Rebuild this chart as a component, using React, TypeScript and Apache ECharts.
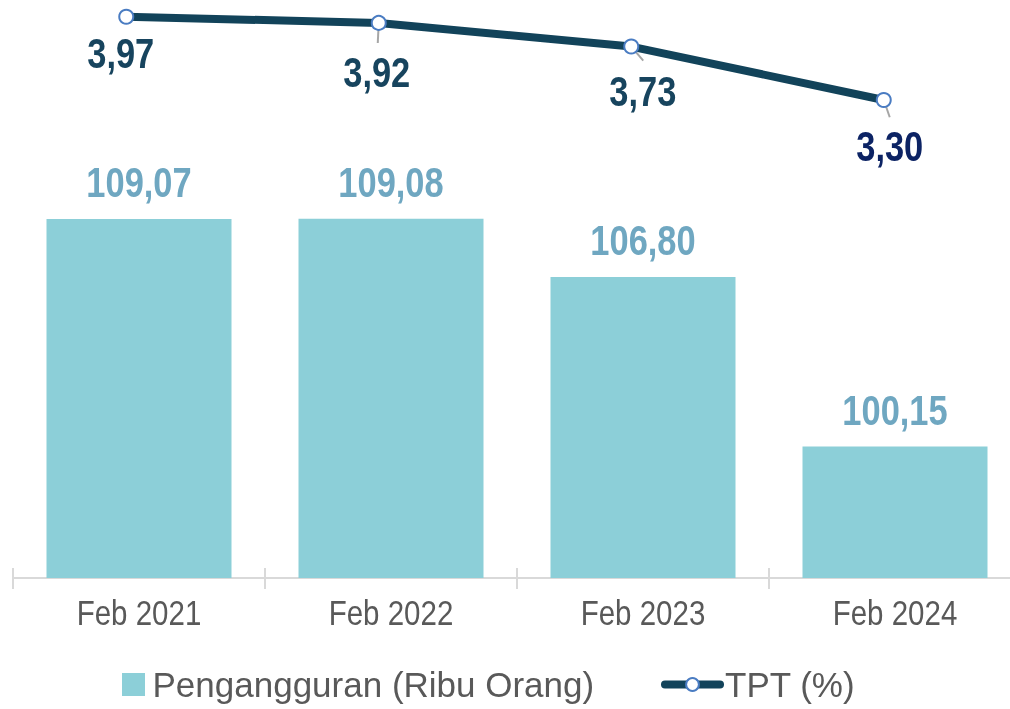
import React, { useEffect, useRef } from "react";
import * as echarts from "echarts";

const categories = ["Feb 2021", "Feb 2022", "Feb 2023", "Feb 2024"];
const pengangguran = [109.07, 109.08, 106.8, 100.15];
const tpt = [3.97, 3.92, 3.73, 3.3];

const FONT = '"Liberation Sans", Arial, sans-serif';
const NARROW = 0.82; // horizontal squeeze to mimic Arial Narrow
const fmt = (v: number) => v.toFixed(2).replace(".", ",");

// label / leader styling for the TPT line (pixel offsets from each point)
const tptLabelOffsets = [[-5.5, 36.7], [-2, 49.7], [11.6, 44.3], [6, 46.7]];
const tptLabelColors = ["#17445e", "#17445e", "#17445e", "#0c2364"];
const leaderVectors = [[0, 0], [-1, 20], [12, 14], [6, 17.3]];

export default function App() {
  const ref = useRef<HTMLDivElement>(null);
  useEffect(() => {
    if (!ref.current) return;
    const chart = echarts.init(ref.current, undefined, { renderer: "svg" });
    const gridTop = 10;
    const gridHeight = 568;
    chart.setOption({
      animation: false,
      textStyle: { fontFamily: FONT },
      grid: [
        { left: 13, top: gridTop, width: 1008, height: gridHeight, outerBoundsMode: "none", containLabel: false },
        { left: 0, top: gridTop, width: 1010, height: gridHeight, outerBoundsMode: "none", containLabel: false },
      ],
      legend: [
        {
          data: [{ name: "Pengangguran (Ribu Orang)", icon: "path://M0,0L1,0L1,1L0,1Z" }],
          left: 117,
          top: 662,
          itemWidth: 28,
          itemHeight: 23,
          symbolKeepAspect: true,
          selectedMode: false,
          textStyle: { fontSize: 35, color: "#595959", fontFamily: FONT },
        },
        {
          data: ["TPT (%)"],
          left: 656,
          top: 662,
          itemWidth: 55,
          itemHeight: 16,
          selectedMode: false,
          lineStyle: { width: 8, color: "#12435a", cap: "round" },
          textStyle: { fontSize: 35, color: "#595959", fontFamily: FONT },
        },
      ],
      xAxis: [
        {
          type: "category",
          gridIndex: 0,
          data: categories,
          position: "bottom",
          axisLine: { lineStyle: { color: "#d9d9d9", width: 2 } },
          axisTick: { show: true, length: 11, lineStyle: { color: "#d9d9d9", width: 2 } },
          axisLabel: { show: false },
        },
        {
          type: "category",
          gridIndex: 1,
          data: categories,
          show: false,
        },
        {
          type: "category",
          gridIndex: 0,
          data: categories,
          position: "bottom",
          axisLine: { show: false },
          axisTick: { show: true, inside: true, length: 10, lineStyle: { color: "#d9d9d9", width: 2 } },
          axisLabel: { show: false },
        },
      ],
      yAxis: [
        { type: "value", gridIndex: 0, min: 95, max: 117.26, show: false, splitLine: { show: false } },
        { type: "value", gridIndex: 1, min: -0.546, max: 4.024, show: false, splitLine: { show: false } },
      ],
      series: [
        {
          name: "Pengangguran (Ribu Orang)",
          type: "bar",
          xAxisIndex: 0,
          yAxisIndex: 0,
          barWidth: 185,
          data: pengangguran,
          itemStyle: { color: "#8ccfd8" },
        },
        {
          // bar value labels (narrow bold)
          name: "barLabels",
          type: "custom",
          xAxisIndex: 0,
          yAxisIndex: 0,
          silent: true,
          z: 5,
          data: pengangguran.map((v, i) => [i, v]),
          renderItem: (params: any, api: any) => {
            const p = api.coord([api.value(0), api.value(1)]);
            return {
              type: "text",
              x: p[0],
              y: p[1] - 36.5,
              scaleX: NARROW,
              style: {
                text: fmt(api.value(1)),
                fontSize: 42,
                fontWeight: "bold",
                fontFamily: FONT,
                fill: "#6fa7c1",
                align: "center",
                verticalAlign: "middle",
              },
            };
          },
        },
        {
          // category labels under the axis (narrow)
          name: "catLabels",
          type: "custom",
          xAxisIndex: 0,
          yAxisIndex: 0,
          silent: true,
          z: 5,
          data: pengangguran.map((v, i) => [i, v]),
          renderItem: (params: any, api: any) => {
            const p = api.coord([api.value(0), api.value(1)]);
            const bottom = params.coordSys.y + params.coordSys.height;
            return {
              type: "text",
              x: p[0],
              y: bottom + 34.5,
              scaleX: NARROW,
              style: {
                text: categories[api.value(0)],
                fontSize: 36,
                fontFamily: FONT,
                fill: "#595959",
                align: "center",
                verticalAlign: "middle",
              },
            };
          },
        },
        {
          // leader lines from points to labels
          name: "leader",
          type: "custom",
          xAxisIndex: 1,
          yAxisIndex: 1,
          silent: true,
          z: 2,
          data: tpt.map((v, i) => [i, v]),
          renderItem: (params: any, api: any) => {
            const i = params.dataIndex;
            const p = api.coord([api.value(0), api.value(1)]);
            const vec = leaderVectors[i];
            return {
              type: "line",
              shape: { x1: p[0], y1: p[1], x2: p[0] + vec[0], y2: p[1] + vec[1] },
              style: { stroke: "#a6a6a6", lineWidth: 2 },
            };
          },
        },
        {
          name: "TPT (%)",
          type: "line",
          xAxisIndex: 1,
          yAxisIndex: 1,
          z: 3,
          symbol: "emptyCircle",
          symbolSize: 14,
          itemStyle: { color: "#4a7cc2", borderWidth: 2 },
          lineStyle: { color: "#12435a", width: 8, cap: "round" },
          data: tpt,
        },
        {
          // TPT value labels (narrow bold)
          name: "tptLabels",
          type: "custom",
          xAxisIndex: 1,
          yAxisIndex: 1,
          silent: true,
          z: 5,
          data: tpt.map((v, i) => [i, v]),
          renderItem: (params: any, api: any) => {
            const i = params.dataIndex;
            const p = api.coord([api.value(0), api.value(1)]);
            const off = tptLabelOffsets[i];
            return {
              type: "text",
              x: p[0] + off[0],
              y: p[1] + off[1],
              scaleX: NARROW,
              style: {
                text: fmt(api.value(1)),
                fontSize: 42,
                fontWeight: "bold",
                fontFamily: FONT,
                fill: tptLabelColors[i],
                align: "center",
                verticalAlign: "middle",
              },
            };
          },
        },
      ],
    });
    return () => chart.dispose();
  }, []);
  return (
    <div
      ref={ref}
      style={{ position: "fixed", left: 0, top: 0, width: 1010, height: 709 }}
    />
  );
}
